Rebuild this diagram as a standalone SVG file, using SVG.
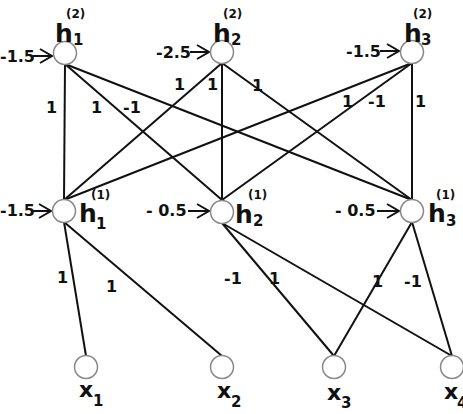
<svg xmlns="http://www.w3.org/2000/svg" width="463" height="414" viewBox="0 0 463 414">
<style>
.n{fill:#fff;stroke:#888;stroke-width:1.5}
.e{stroke:#111;stroke-width:2;fill:none}
.a{stroke:#111;stroke-width:2;fill:none}
.h{font-family:"DejaVu Sans",sans-serif;font-weight:bold;font-size:25px;fill:#111}
.x{font-family:"DejaVu Sans",sans-serif;font-weight:bold;font-size:22px;fill:#111}
.s{font-family:"DejaVu Sans",sans-serif;font-weight:bold;font-size:15px;fill:#111}
.p{font-family:"DejaVu Sans",sans-serif;font-weight:bold;font-size:12px;fill:#111}
.w{font-family:"DejaVu Sans",sans-serif;font-weight:bold;font-size:16px;fill:#111}
</style>
<rect width="463" height="414" fill="#fff"/>
<g id="connectors">
<line class="e" x1="65" y1="64" x2="64" y2="200"/>
<line class="e" x1="65" y1="64" x2="222" y2="200"/>
<line class="e" x1="65" y1="64" x2="412" y2="200"/>
<line class="e" x1="222" y1="63" x2="64" y2="200"/>
<line class="e" x1="222" y1="63" x2="222" y2="200"/>
<line class="e" x1="222" y1="63" x2="412" y2="200"/>
<line class="e" x1="412" y1="63" x2="64" y2="200"/>
<line class="e" x1="412" y1="63" x2="222" y2="200"/>
<line class="e" x1="412" y1="63" x2="412" y2="200"/>
<line class="e" x1="64" y1="222" x2="86" y2="356"/>
<line class="e" x1="64" y1="222" x2="222" y2="356"/>
<line class="e" x1="222" y1="223" x2="334" y2="356"/>
<line class="e" x1="222" y1="223" x2="452" y2="356"/>
<line class="e" x1="412" y1="222" x2="334" y2="356"/>
<line class="e" x1="412" y1="222" x2="452" y2="356"/>
<path class="a" d="M33,56 H52 M40,49 L52,56 L40,63"/>
<path class="a" d="M190,52 H209 M197,45 L209,52 L197,59"/>
<path class="a" d="M380,51 H399 M387,44 L399,51 L387,58"/>
<path class="a" d="M33,211 H51 M39,204 L51,211 L39,218"/>
<path class="a" d="M188,211 H209 M197,204 L209,211 L197,218"/>
<path class="a" d="M377,211 H399 M387,204 L399,211 L387,218"/>
<text class="w" x="46" y="113">1</text>
<text class="w" x="91" y="113">1</text>
<text class="w" x="123" y="113">-1</text>
<text class="w" x="174" y="90">1</text>
<text class="w" x="207" y="90">1</text>
<text class="w" x="252" y="91">1</text>
<text class="w" x="342" y="107">1</text>
<text class="w" x="368" y="107">-1</text>
<text class="w" x="415" y="107">1</text>
<text class="w" x="57" y="283">1</text>
<text class="w" x="106" y="292">1</text>
<text class="w" x="224" y="284">-1</text>
<text class="w" x="269" y="284">1</text>
<text class="w" x="372" y="287">1</text>
<text class="w" x="404" y="287">-1</text>
</g>
<g id="h1_2">
<circle class="n" cx="65" cy="53" r="11.5"/>
<text class="h" x="55" y="42">h</text><text class="s" x="73" y="45">1</text><text class="p" x="66" y="18">(2)</text>
<text class="w" x="0" y="62">-1.5</text>
</g>
<g id="h2_2">
<circle class="n" cx="222" cy="52" r="11.5"/>
<text class="h" x="213" y="42">h</text><text class="s" x="231" y="45">2</text><text class="p" x="223" y="18">(2)</text>
<text class="w" x="156" y="58">-2.5</text>
</g>
<g id="h3_2">
<circle class="n" cx="412" cy="52" r="11.5"/>
<text class="h" x="404" y="42">h</text><text class="s" x="421" y="45">3</text><text class="p" x="413" y="18">(2)</text>
<text class="w" x="346" y="57">-1.5</text>
</g>
<g id="h1_1">
<circle class="n" cx="64" cy="211" r="11.5"/>
<text class="h" x="79" y="222">h</text><text class="s" x="96" y="229">1</text><text class="p" x="91" y="199">(1)</text>
<text class="w" x="0" y="216">-1.5</text>
</g>
<g id="h2_1">
<circle class="n" cx="222" cy="212" r="11.5"/>
<text class="h" x="235" y="223">h</text><text class="s" x="253" y="226">2</text><text class="p" x="248" y="199">(1)</text>
<text class="w" x="146" y="216">- 0.5</text>
</g>
<g id="h3_1">
<circle class="n" cx="412" cy="211" r="11.5"/>
<text class="h" x="428" y="222">h</text><text class="s" x="446" y="226">3</text><text class="p" x="436" y="199">(1)</text>
<text class="w" x="335" y="216">- 0.5</text>
</g>
<g id="x1">
<circle class="n" cx="86" cy="367" r="11.5"/>
<text class="x" x="79" y="397">x</text><text class="s" x="93" y="406">1</text>
</g>
<g id="x2">
<circle class="n" cx="222" cy="367" r="11.5"/>
<text class="x" x="217" y="398">x</text><text class="s" x="231" y="407">2</text>
</g>
<g id="x3">
<circle class="n" cx="334" cy="367" r="11.5"/>
<text class="x" x="327" y="400">x</text><text class="s" x="341" y="408">3</text>
</g>
<g id="x4">
<circle class="n" cx="452" cy="367" r="11.5"/>
<text class="x" x="444" y="399">x</text><text class="s" x="457" y="408">4</text>
</g>
</svg>
